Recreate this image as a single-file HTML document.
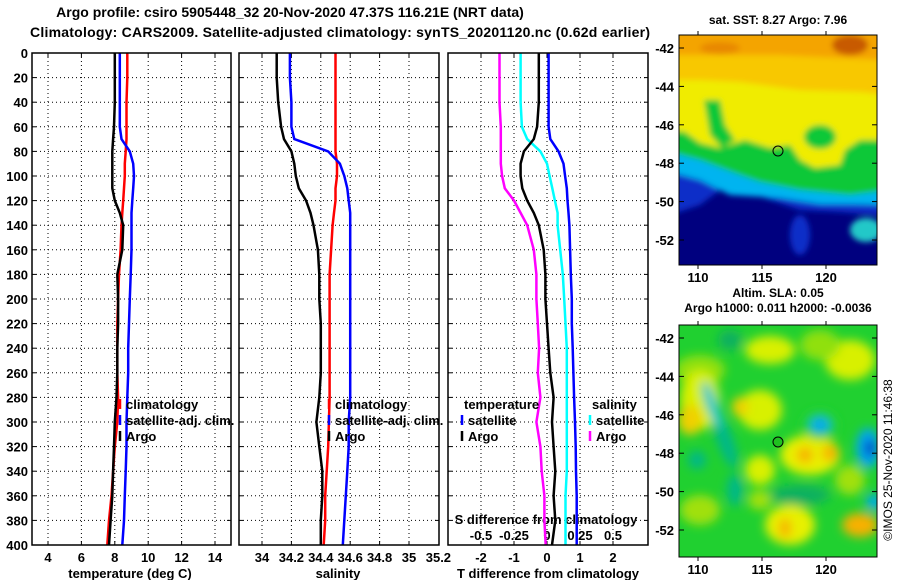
<!DOCTYPE html>
<html><head><meta charset="utf-8">
<style>
body{margin:0;background:#fff;width:900px;height:580px;overflow:hidden}
svg{display:block;font-family:"Liberation Sans",sans-serif;font-weight:bold}
</style></head><body>
<svg id="chart" width="900" height="580" xmlns="http://www.w3.org/2000/svg">
<defs>
<filter id="bl" x="-20%" y="-20%" width="140%" height="140%"><feGaussianBlur stdDeviation="3"/></filter>
<filter id="bl2" x="-50%" y="-50%" width="200%" height="200%"><feGaussianBlur stdDeviation="5"/></filter>
<clipPath id="c1"><rect x="679" y="35" width="198" height="230"/></clipPath>
<clipPath id="c2"><rect x="679" y="325" width="198" height="232"/></clipPath>
</defs>
<text x="290" y="17" font-size="14" text-anchor="middle">Argo profile: csiro 5905448_32 20-Nov-2020 47.37S 116.21E (NRT data)</text>
<text x="340" y="37" font-size="14" text-anchor="middle" textLength="620">Climatology: CARS2009. Satellite-adjusted climatology: synTS_20201120.nc (0.62d earlier)</text>

<g clip-path="url(#c1)">
<rect x="679" y="35" width="198" height="230" fill="#00007f"/>
<g filter="url(#bl)">
<path d="M670,30 H890 V220 L877,215 L840,212 L800,210 L770,200 L745,190 L720,190 L700,205 L670,215 Z" fill="#0a2fc8"/>
<path d="M670,30 H890 V205 L850,204 L820,204 L780,198 L730,195 L700,180 L670,172 Z" fill="#00b4f0"/>
<path d="M670,30 H890 V190 L850,195 L800,190 L760,182 L740,175 L700,160 L670,152 Z" fill="#10c838"/>
<path d="M670,30 H890 V140 L860,140 L845,150 L840,165 L815,168 L800,160 L790,145 L770,148 L745,140 L720,148 L700,143 L685,132 L670,130 Z" fill="#f0ec00"/>
<path d="M670,30 H890 V95 L860,92 L800,90 L740,82 L700,80 L670,80 Z" fill="#f8c800"/>
<path d="M670,30 H890 V60 L840,58 L780,55 L720,55 L670,55 Z" fill="#f4a400"/>
<ellipse cx="850" cy="45" rx="18" ry="10" fill="#c85a00"/>
<ellipse cx="720" cy="48" rx="20" ry="6" fill="#e88800"/>
<path d="M704,100 L720,100 L725,125 L735,140 L722,148 L710,135 Z" fill="#10c838"/>
<ellipse cx="820" cy="137" rx="16" ry="12" fill="#10c838"/>
<ellipse cx="866" cy="230" rx="16" ry="12" fill="#20c8c8"/>
<ellipse cx="800" cy="235" rx="10" ry="20" fill="#0a2fc8"/>
</g>
</g>
<rect x="679" y="35" width="198" height="230" fill="none" stroke="#000"/>
<circle cx="778" cy="151" r="5" fill="none" stroke="#000"/>
<text x="778" y="24" font-size="12" text-anchor="middle">sat. SST: 8.27 Argo: 7.96</text>

<g clip-path="url(#c2)">
<rect x="679" y="325" width="198" height="232" fill="#20d030"/>
<g filter="url(#bl2)">
<ellipse cx="700" cy="370" rx="25" ry="15" fill="#90e010"/>
<ellipse cx="700" cy="400" rx="20" ry="30" fill="#d8f000"/>
<ellipse cx="690" cy="420" rx="12" ry="15" fill="#f0d000"/>
<ellipse cx="760" cy="410" rx="22" ry="20" fill="#d8f000"/>
<ellipse cx="740" cy="407" rx="8" ry="10" fill="#f0d000"/>
<ellipse cx="810" cy="455" rx="30" ry="20" fill="#e8f000"/>
<ellipse cx="805" cy="455" rx="8" ry="8" fill="#f8b000"/>
<ellipse cx="830" cy="453" rx="8" ry="8" fill="#f8b000"/>
<ellipse cx="850" cy="360" rx="25" ry="20" fill="#d8f000"/>
<ellipse cx="770" cy="350" rx="25" ry="14" fill="#d8f000"/>
<ellipse cx="820" cy="345" rx="20" ry="15" fill="#90e010"/>
<ellipse cx="860" cy="525" rx="18" ry="12" fill="#f8b000"/>
<ellipse cx="790" cy="525" rx="25" ry="20" fill="#e8f000"/>
<ellipse cx="785" cy="528" rx="6" ry="10" fill="#f8b000"/>
<ellipse cx="760" cy="470" rx="15" ry="15" fill="#d8f000"/>
<ellipse cx="700" cy="510" rx="20" ry="15" fill="#a0e010"/>
<ellipse cx="850" cy="480" rx="15" ry="15" fill="#a0e010"/>
<ellipse cx="760" cy="500" rx="12" ry="10" fill="#a0e010"/>
<ellipse cx="725" cy="440" rx="8" ry="30" fill="#00b888" transform="rotate(-20 725 440)"/>
<ellipse cx="712" cy="405" rx="6" ry="25" fill="#20c8c8" transform="rotate(-20 712 405)"/>
<ellipse cx="697" cy="460" rx="9" ry="9" fill="#00b888"/>
<ellipse cx="735" cy="490" rx="8" ry="16" fill="#00b888"/>
<ellipse cx="820" cy="425" rx="18" ry="15" fill="#20d030"/>
<ellipse cx="820" cy="425" rx="10" ry="8" fill="#00a8f0"/>
<ellipse cx="868" cy="448" rx="12" ry="20" fill="#00a8f0"/>
<ellipse cx="870" cy="448" rx="5" ry="9" fill="#0030c0"/>
<ellipse cx="874" cy="502" rx="8" ry="8" fill="#00a8f0"/>
<ellipse cx="800" cy="495" rx="30" ry="10" fill="#10b060"/>
<ellipse cx="730" cy="340" rx="12" ry="10" fill="#10b060"/>
</g>
</g>
<rect x="679" y="325" width="198" height="232" fill="none" stroke="#000"/>
<circle cx="778" cy="442" r="5" fill="#20c020" stroke="#000"/>
<text x="778" y="297" font-size="12" text-anchor="middle">Altim. SLA: 0.05</text>
<text x="778" y="312" font-size="12" text-anchor="middle">Argo h1000: 0.011 h2000: -0.0036</text>
<text transform="translate(892 460) rotate(-90)" font-size="12" font-weight="normal" text-anchor="middle">©IMOS 25-Nov-2020 11:46:38</text>
<g id="maps-axes"></g>
<g id="panels"></g>
</svg>
<script>
const depths=[0,20,40,60,70,80,90,100,110,120,130,140,160,180,200,220,240,260,280,300,320,340,360,380,400];
const depthTicks=[0,20,40,60,80,100,120,140,160,180,200,220,240,260,280,300,320,340,360,380,400];
const climT=[8.75,8.75,8.7,8.7,8.7,8.65,8.6,8.6,8.55,8.5,8.45,8.4,8.35,8.25,8.2,8.15,8.15,8.15,8.2,8.15,8.0,7.9,7.8,7.65,7.55];
const satT=[8.3,8.3,8.3,8.3,8.4,8.9,9.1,9.15,9.1,9.05,9.0,9.0,9.0,8.95,8.9,8.85,8.8,8.8,8.75,8.7,8.7,8.65,8.6,8.55,8.45];
const argoT=[8.0,8.0,8.0,7.95,7.9,7.85,7.85,7.85,7.85,8.0,8.3,8.5,8.45,8.15,8.2,8.2,8.15,8.15,8.1,8.0,7.95,7.9,7.85,7.75,7.65];
const tempTicks=[4,6,8,10,12,14];
const climS=[34.5,34.5,34.5,34.5,34.5,34.5,34.51,34.51,34.5,34.5,34.49,34.48,34.47,34.46,34.46,34.46,34.46,34.46,34.46,34.455,34.45,34.44,34.43,34.43,34.42];
const satS=[34.19,34.19,34.2,34.2,34.22,34.45,34.53,34.56,34.58,34.59,34.6,34.6,34.6,34.6,34.6,34.6,34.6,34.6,34.6,34.59,34.59,34.58,34.57,34.56,34.55];
const argoS=[34.1,34.1,34.11,34.13,34.15,34.2,34.22,34.23,34.25,34.3,34.33,34.35,34.38,34.39,34.39,34.4,34.4,34.4,34.39,34.37,34.39,34.41,34.41,34.4,34.4];
const salTicks=[34,34.2,34.4,34.6,34.8,35,35.2];
const satDT=[0.05,0.05,0.05,0.05,0.1,0.35,0.5,0.55,0.6,0.62,0.65,0.68,0.7,0.72,0.75,0.75,0.78,0.8,0.82,0.85,0.87,0.88,0.9,0.9,0.9];
const argoDT=[-0.25,-0.25,-0.25,-0.3,-0.4,-0.7,-0.8,-0.8,-0.75,-0.6,-0.4,-0.25,-0.1,-0.05,-0.05,0.0,0.05,0.1,0.2,0.15,0.2,0.25,0.2,0.25,0.15];
const satDS=[-0.2,-0.2,-0.2,-0.19,-0.15,-0.05,0.0,0.02,0.04,0.06,0.08,0.08,0.1,0.12,0.13,0.14,0.15,0.15,0.15,0.15,0.15,0.15,0.14,0.14,0.14];
const argoDS=[-0.36,-0.36,-0.36,-0.35,-0.35,-0.35,-0.35,-0.34,-0.32,-0.25,-0.2,-0.15,-0.1,-0.08,-0.08,-0.07,-0.06,-0.07,-0.05,-0.08,-0.05,-0.04,-0.02,-0.02,-0.01];
const dTTicks=[-2,-1,0,1,2];
const dSTicks=[-0.5,-0.25,0,0.25,0.5];
const dSTickLabels=["-0.5","-0.25","0","0.25","0.5"];
const lonTicks=[110,115,120];
const latTicks=[-42,-44,-46,-48,-50,-52];

const NS="http://www.w3.org/2000/svg";
const root=document.getElementById('panels');
function mk(tag,attrs,parent,txt){const e=document.createElementNS(NS,tag);for(const k in attrs)e.setAttribute(k,attrs[k]);if(txt!==undefined)e.textContent=txt;(parent||root).appendChild(e);return e;}
const Y0=53,Y1=545;
const yD=d=>Y0+d*(Y1-Y0)/400;
function lin(v0,p0,v1,p1){return v=>p0+(v-v0)*(p1-p0)/(v1-v0);}
const xT=lin(4,48,14,215);
const xS=lin(34,262,35,409);
const xDT=lin(0,547,1,580);
const xDS=lin(0,547,0.25,580);
const panels=[{x0:32,x1:231,name:'temperature-panel'},{x0:239,x1:439,name:'salinity-panel'},{x0:448,x1:648,name:'difference-panel'}];

panels.forEach((p,i)=>{
  const g=mk('g',{});
  
  
  p.g=g;
  depthTicks.forEach(d=>{
    if(d===0||d===400)return;
    const l=mk('line',{x1:p.x0,x2:p.x1,y1:yD(d),y2:yD(d),stroke:'#000','stroke-width':1,'stroke-dasharray':'1 3'},g);
    
    
    mk('line',{x1:p.x0,x2:p.x0+4,y1:yD(d),y2:yD(d),stroke:'#000'},g);
    mk('line',{x1:p.x1-4,x2:p.x1,y1:yD(d),y2:yD(d),stroke:'#000'},g);
  });
});
function vgrid(p,ticks,fx,labels,ly){
  ticks.forEach((t,k)=>{
    const x=fx(t);
    if(x>p.x0+2&&x<p.x1-2){
      const l=mk('line',{x1:x,x2:x,y1:Y0,y2:Y1,stroke:'#000','stroke-dasharray':'1 3'},p.g);
      
      
      mk('line',{x1:x,x2:x,y1:Y1-4,y2:Y1,stroke:'#000'},p.g);
      mk('line',{x1:x,x2:x,y1:Y0,y2:Y0+4,stroke:'#000'},p.g);
    }
    const tx=mk('text',{x:Math.min(x,p.x1),y:ly,'font-size':13,'text-anchor':'middle'},p.g,labels?labels[k]:String(t));
    
    
  });
}
vgrid(panels[0],tempTicks,xT,null,562);
vgrid(panels[1],salTicks,xS,null,562);
vgrid(panels[2],dTTicks,xDT,null,562);
dSTicks.forEach((t,k)=>{
  const tx=mk('text',{x:xDS(t),y:540,'font-size':13,'text-anchor':'middle'},panels[2].g,dSTickLabels[k]);
  
  
});
const st=mk('text',{x:546,y:524,'font-size':13,'text-anchor':'middle'},panels[2].g,'S difference from climatology');



depthTicks.forEach(d=>{
  const t=mk('text',{x:28,y:yD(d)+5,'font-size':13,'text-anchor':'end'},root,String(d));
  
  
});

function series(p,vals,fx,color,name){
  const pts=vals.map((v,k)=>fx(v).toFixed(1)+','+yD(depths[k]).toFixed(1)).join(' ');
  const l=mk('polyline',{points:pts,fill:'none',stroke:color,'stroke-width':2.5},p.g);
  
  
}
series(panels[0],climT,xT,'#f00','climatology-temperature-line');
series(panels[0],satT,xT,'#00f','satellite-temperature-line');
series(panels[0],argoT,xT,'#000','argo-temperature-line');
series(panels[1],climS,xS,'#f00','climatology-salinity-line');
series(panels[1],satS,xS,'#00f','satellite-salinity-line');
series(panels[1],argoS,xS,'#000','argo-salinity-line');
series(panels[2],satDT,xDT,'#00f','satellite-t-diff-line');
series(panels[2],satDS,xDS,'#0ff','satellite-s-diff-line');
series(panels[2],argoDS,xDS,'#f0f','argo-s-diff-line');
series(panels[2],argoDT,xDT,'#000','argo-t-diff-line');

panels.forEach(p=>{
  const r=mk('rect',{x:p.x0,y:Y0,width:p.x1-p.x0,height:Y1-Y0,fill:'none',stroke:'#000','stroke-width':1.5},p.g);
  
  
});

function legend(p,x,items,title){
  if(title){const t=mk('text',{x:x-4,y:409,'font-size':13},p.g,title);}
  items.forEach((it,k)=>{
    const y=title?425+k*16:409+k*16;
    mk('line',{x1:x-6,x2:x-6,y1:y-10,y2:y,stroke:it[1],'stroke-width':2.5},p.g);
    const t=mk('text',{x:x,y:y,'font-size':13},p.g,it[0]);
    
    
  });
}
legend(panels[0],126,[['climatology','#f00'],['satellite-adj. clim.','#00f'],['Argo','#000']]);
legend(panels[1],335,[['climatology','#f00'],['satellite-adj. clim.','#00f'],['Argo','#000']]);
legend(panels[2],468,[['satellite','#00f'],['Argo','#000']],'temperature');
legend(panels[2],596,[['satellite','#0ff'],['Argo','#f0f']],'salinity');

[['temperature (deg C)',130],['salinity',338],['T difference from climatology',548]].forEach(a=>{
  const t=mk('text',{x:a[1],y:578,'font-size':13,'text-anchor':'middle'},root,a[0]);
  
  
});

const mg=document.getElementById('maps-axes');
const lonX=lin(110,698,115,762);
[[35,265,48,240],[325,557,338,530]].forEach(m=>{
  const latY=lin(-42,m[2],-52,m[3]);
  latTicks.forEach(v=>{
    const y=latY(v);
    mk('line',{x1:679,x2:684,y1:y,y2:y,stroke:'#000'},mg);
    mk('line',{x1:872,x2:877,y1:y,y2:y,stroke:'#000'},mg);
    const t=mk('text',{x:674,y:y+5,'font-size':13,'text-anchor':'end'},mg,String(v));
    
    
  });
  lonTicks.forEach(v=>{
    const x=lonX(v);
    mk('line',{x1:x,x2:x,y1:m[0]-4,y2:m[0],stroke:'#000'},mg);
    mk('line',{x1:x,x2:x,y1:m[1],y2:m[1]+4,stroke:'#000'},mg);
    const t=mk('text',{x:x,y:m[1]+17,'font-size':13,'text-anchor':'middle'},mg,String(v));
    
    
  });
});
</script>
</body></html>
